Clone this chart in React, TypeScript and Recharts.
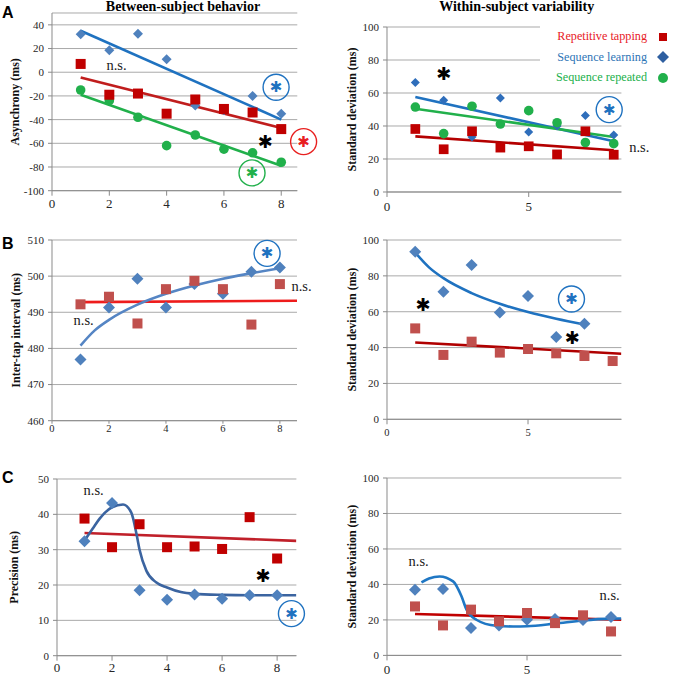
import React from "react";
import { CartesianGrid, ComposedChart, Legend, Line, ReferenceDot, Scatter, XAxis, YAxis } from "recharts";

const trials = [1, 2, 3, 4, 5, 6, 7, 8];
const fitEnds = [1, 8];

// A: asynchrony, between subjects
const asyncTapping = [7, -19, -18, -35, -23, -31, -34, -48];
const asyncLearning = [32, 18.5, 32.5, 11, -28, -32, -20, -35];
const asyncRepeated = [-15, -24, -38, -62, -53, -65, -68, -76];
const asyncTappingFit = [-4.5, -47];
const asyncLearningFit = [35, -40];
const asyncRepeatedFit = [-19, -79];

// A: asynchrony, within-subject SD
const asyncSdTapping = [38.2, 25.9, 36.8, 26.9, 27.7, 22.8, 36.8, 22.6];
const asyncSdLearning = [66.3, 55.6, 33.3, 57, 36.4, 40, 46.3, 34.5];
const asyncSdRepeated = [51.5, 35.4, 52, 41.2, 49.3, 42, 30, 29.3];
const asyncSdTappingFit = [33.7, 25.3];
const asyncSdLearningFit = [57.6, 30.7];
const asyncSdRepeatedFit = [50.5, 33.3];

// B: inter-tap interval
const itiTapping = [492.2, 494.3, 486.9, 496.4, 498.7, 496.4, 486.6, 497.8];
const itiLearning = [476.9, 491.3, 499.3, 491.3, 497.8, 495.1, 501.2, 502.4];
const itiTappingFitX = [1, 8.6];
const itiTappingFit = [492.8, 493.2];
const itiLearningFitX = [1, 1.5, 2, 3, 4, 5, 6, 7, 8];
const itiLearningFit = [480.8, 485.0, 487.9, 492.1, 495.1, 497.4, 499.3, 500.8, 502.2];

const itiSdTapping = [50.7, 35.9, 43.3, 37.2, 39.2, 36.8, 35.3, 32.5];
const itiSdLearning = [93.5, 71.2, 86.1, 59.5, 68.8, 45.9, 53.3];
const itiSdTappingFitX = [1, 8.31];
const itiSdTappingFit = [42.8, 36.6];
const itiSdLearningFitX = [1, 1.5, 2, 3, 4, 5, 6, 7];
const itiSdLearningFit = [93, 84.6, 78.7, 70.4, 64.4, 59.8, 56.1, 52.9];

// C: precision
const precTapping = [38.8, 30.7, 37.2, 30.7, 30.9, 30.2, 39.2, 27.5];
const precLearning = [32.4, 43.2, 18.5, 15.8, 17.3, 16.1, 17.1, 17.1];
const precTappingFitX = [1, 8.7];
const precTappingFit = [34.7, 32.5];
const precLearningFitX = [1, 1.3, 1.55, 2, 2.4, 2.7, 2.9, 3.0, 3.25, 3.6, 4, 4.5, 5, 6, 7, 8, 8.7];
const precLearningFit = [32.6, 36, 38.8, 42, 42.8, 40.5, 34, 30, 24, 20.8, 19.3, 18, 17.5, 17.2, 17.1, 17.1, 17.1];

const precSdTapping = [27.6, 16.9, 25.8, 19.2, 23.9, 18.2, 22.6, 13.5];
const precSdLearning = [37, 37.4, 15.4, 16.9, 20.1, 20.5, 20, 21.6];
const precSdTappingFitX = [1, 8.37];
const precSdTappingFit = [23.3, 20.1];
const precSdLearningFitX = [1.23, 1.5, 1.88, 2.36, 2.66, 2.84, 3.19, 3.9, 4.5, 5, 6, 7, 8, 8.37];
const precSdLearningFit = [41.1, 43.3, 44.5, 41.7, 33.3, 25.8, 20.1, 16.7, 16.3, 16.4, 17.9, 19.7, 20.7, 20.8];

const legendNames = ["Repetitive tapping", "Sequence learning", "Sequence repeated"];

const SERIF = '"Liberation Serif", "Times New Roman", serif';
const SANS = '"Liberation Sans", Arial, sans-serif';
const GRID = "#a9a9a9";
const AXIS = "#8a8a8a";
const RED_DARK = "#c00000";
const RED_SOFT = "#c0504d";
const RED_BRIGHT = "#e8201f";
const BLUE_SOFT = "#4f81bd";
const BLUE = "#1f72c0";
const GREEN = "#21b04b";

const pts = (ys: number[], xs: number[] = trials) => ys.map((y, i) => ({ x: xs[i], y }));

const square = (color: string, s: number) => (p: any) => (
  <rect x={p.cx - s / 2} y={p.cy - s / 2} width={s} height={s} fill={color} />
);
const diamond = (color: string, h: number) => (p: any) => (
  <path d={`M${p.cx},${p.cy - h}L${p.cx + h},${p.cy}L${p.cx},${p.cy + h}L${p.cx - h},${p.cy}Z`} fill={color} />
);
const dot = (color: string, r: number) => (p: any) => <circle cx={p.cx} cy={p.cy} r={r} fill={color} />;

// serif tick labels
const xTick = (fs: number) => (p: any) => (
  <text x={p.x} y={p.y} textAnchor="middle" fontFamily={SERIF} fontSize={fs} fill="#262626" dy="0.71em">
    {p.payload.value}
  </text>
);
const yTick = (p: any) => (
  <text x={p.x} y={p.y} textAnchor="end" fontFamily={SERIF} fontSize={11} fill="#262626" dy="0.355em">
    {p.payload.value}
  </text>
);

type Note = { x: number; y: number; kind: "ns" | "star" | "ring"; color?: string };

const noteShape = (n: Note) => (p: any) => {
  const { cx, cy } = p;
  if (n.kind === "ns")
    return (
      <text x={cx} y={cy} textAnchor="middle" dominantBaseline="central" fontFamily={SERIF} fontSize={14.5} fill="#1a1a1a">
        n.s.
      </text>
    );
  if (n.kind === "star")
    return (
      <text x={cx} y={cy} textAnchor="middle" dominantBaseline="central" fontFamily="DejaVu Sans" fontSize={18} fill="#000">
        ✱
      </text>
    );
  return (
    <g>
      <circle cx={cx} cy={cy} r={13} fill="none" stroke={n.color} strokeWidth={1.4} />
      <text x={cx} y={cy} textAnchor="middle" dominantBaseline="central" fontFamily="DejaVu Sans" fontSize={15} fill={n.color}>
        ✱
      </text>
    </g>
  );
};

const notesAsync: Note[] = [
  { x: 2.25, y: 6, kind: "ns" },
  { x: 7.82, y: -12.7, kind: "ring", color: BLUE },
  { x: 7.44, y: -58.6, kind: "star" },
  { x: 8.78, y: -58.6, kind: "ring", color: RED_BRIGHT },
  { x: 6.98, y: -85, kind: "ring", color: GREEN },
];
const notesAsyncSd: Note[] = [
  { x: 2.0, y: 71.7, kind: "star" },
  { x: 7.84, y: 49.9, kind: "ring", color: BLUE },
  { x: 8.9, y: 27.3, kind: "ns" },
];
const notesIti: Note[] = [
  { x: 7.55, y: 506.3, kind: "ring", color: BLUE },
  { x: 1.11, y: 488, kind: "ns" },
  { x: 8.76, y: 497.3, kind: "ns" },
];
const notesItiSd: Note[] = [
  { x: 1.28, y: 64.3, kind: "star" },
  { x: 6.54, y: 67.1, kind: "ring", color: BLUE },
  { x: 6.57, y: 45.5, kind: "star" },
];
const notesPrec: Note[] = [
  { x: 1.33, y: 47, kind: "ns" },
  { x: 7.49, y: 22.6, kind: "star" },
  { x: 8.52, y: 11.9, kind: "ring", color: BLUE },
];
const notesPrecSd: Note[] = [
  { x: 1.13, y: 53, kind: "ns" },
  { x: 7.95, y: 34.2, kind: "ns" },
];

function LegendBox() {
  const markers = [
    <rect key="s" x={3} y={3} width={8} height={8} fill={RED_DARK} />,
    <path key="d" d="M7,1L13,7L7,13L1,7Z" fill="#2e5fa0" />,
    <circle key="c" cx={7} cy={7} r={5} fill={GREEN} />,
  ];
  const textColors = [RED_BRIGHT, "#2e75b6", GREEN];
  return (
    <div style={{ background: "#fff", width: 134, height: 62, paddingTop: 1.5, boxSizing: "border-box", fontFamily: SERIF, fontSize: 12.2 }}>
      {legendNames.map((name, i) => (
        <div key={name} style={{ display: "flex", alignItems: "center", height: 20.5 }}>
          <span style={{ width: 107, textAlign: "right", whiteSpace: "nowrap", color: textColors[i] }}>{name}</span>
          <svg width={14} height={14} style={{ marginLeft: 9.3 }}>
            {markers[i]}
          </svg>
        </div>
      ))}
    </div>
  );
}

const AXW = 50;
const MT = 10;
const MR = 50;
const XAH = 26;

type PanelProps = {
  left: number;
  top: number;
  plotW: number;
  plotH: number;
  xMax: number;
  xTicks: number[];
  xFont: number;
  xTickSize: number;
  xTickMargin: number;
  yDomain: [number, number];
  yTicks: number[];
  yLabel: string;
  yLabelGap: number;
  series: { data: { x: number; y: number }[]; shape: (p: any) => React.ReactElement }[];
  fits: { data: { x: number; y: number }[]; color: string }[];
  notes: Note[];
  legend?: boolean;
};

function Panel(p: PanelProps) {
  const W = AXW + p.plotW + MR;
  const H = MT + p.plotH + XAH;
  return (
    <div style={{ position: "absolute", left: p.left - AXW, top: p.top - MT, fontFamily: SERIF }}>
      <ComposedChart width={W} height={H} margin={{ top: MT, right: MR, bottom: 0, left: 0 }}>
        <CartesianGrid vertical={false} stroke={GRID} />
        <XAxis
          type="number"
          dataKey="x"
          domain={[0, p.xMax]}
          ticks={p.xTicks}
          interval={0}
          allowDataOverflow
          height={XAH}
          tickSize={p.xTickSize}
          tickMargin={p.xTickMargin}
          axisLine={{ stroke: AXIS }}
          tickLine={{ stroke: AXIS }}
          tick={xTick(p.xFont)}
        />
        <YAxis
          type="number"
          dataKey="y"
          domain={p.yDomain}
          ticks={p.yTicks}
          interval={0}
          allowDataOverflow
          width={AXW}
          tickSize={4}
          tickMargin={4}
          axisLine={{ stroke: AXIS }}
          tickLine={{ stroke: AXIS }}
          tick={yTick}
          label={{
            value: p.yLabel,
            angle: -90,
            position: "insideLeft",
            offset: AXW - p.yLabelGap,
            style: { textAnchor: "middle", fontFamily: SERIF, fontWeight: 700, fontSize: 12, fill: "#111" },
          }}
        />
        {p.series.map((s, i) => (
          <Scatter key={i} data={s.data} shape={s.shape} isAnimationActive={false} />
        ))}
        {p.fits.map((f, i) => (
          <Line
            key={i}
            data={f.data}
            dataKey="y"
            type="monotone"
            stroke={f.color}
            strokeWidth={2.6}
            dot={false}
            activeDot={false}
            isAnimationActive={false}
          />
        ))}
        {p.notes.map((n, i) => (
          <ReferenceDot key={i} x={n.x} y={n.y} ifOverflow="visible" shape={noteShape(n)} />
        ))}
        {p.legend && (
          <Legend
            layout="vertical"
            align="center"
            verticalAlign="middle"
            wrapperStyle={{ left: 202.7, top: 8.3, width: 134, height: 62 }}
            content={() => <LegendBox />}
          />
        )}
      </ComposedChart>
    </div>
  );
}

const letterStyle: React.CSSProperties = {
  position: "absolute",
  left: 2,
  fontFamily: SANS,
  fontWeight: 700,
  fontSize: 16,
  lineHeight: "16px",
};
const titleStyle: React.CSSProperties = {
  position: "absolute",
  top: 0,
  width: 240,
  textAlign: "center",
  fontFamily: SERIF,
  fontWeight: 700,
  fontSize: 14,
  lineHeight: "14px",
  whiteSpace: "nowrap",
};

export default function App() {
  return (
    <div style={{ position: "absolute", left: 0, top: 0, width: 674, height: 679, background: "#fff", overflow: "hidden" }}>
      <div style={{ ...titleStyle, left: 183 - 120 }}>Between-subject behavior</div>
      <div style={{ ...titleStyle, left: 516.7 - 120 }}>Within-subject variability</div>
      <div style={{ ...letterStyle, top: 4.8 }}>A</div>
      <div style={{ ...letterStyle, top: 235.5 }}>B</div>
      <div style={{ ...letterStyle, top: 470 }}>C</div>

      <Panel
        left={51.7}
        top={13.3}
        plotW={245.3}
        plotH={177.7}
        xMax={8.56}
        xTicks={[0, 2, 4, 6, 8]}
        xFont={13}
        xTickSize={5}
        xTickMargin={3}
        yDomain={[-100, 50]}
        yTicks={[-100, -80, -60, -40, -20, 0, 20, 40]}
        yLabel="Asynchrony (ms)"
        yLabelGap={37.7}
        series={[
          { data: pts(asyncLearning), shape: diamond(BLUE_SOFT, 5) },
          { data: pts(asyncRepeated), shape: dot(GREEN, 4.8) },
          { data: pts(asyncTapping), shape: square(RED_DARK, 10) },
        ]}
        fits={[
          { data: pts(asyncLearningFit, fitEnds), color: BLUE },
          { data: pts(asyncTappingFit, fitEnds), color: "#c01d1d" },
          { data: pts(asyncRepeatedFit, fitEnds), color: GREEN },
        ]}
        notes={notesAsync}
      />

      <Panel
        left={387.3}
        top={26.7}
        plotW={234.4}
        plotH={165}
        xMax={8.27}
        xTicks={[0, 5]}
        xFont={13}
        xTickSize={5}
        xTickMargin={5}
        yDomain={[0, 100]}
        yTicks={[0, 20, 40, 60, 80, 100]}
        yLabel="Standard deviation (ms)"
        yLabelGap={35.6}
        series={[
          { data: pts(asyncSdLearning), shape: diamond("#2f6ebb", 4.5) },
          { data: pts(asyncSdRepeated), shape: dot(GREEN, 4.8) },
          { data: pts(asyncSdTapping), shape: square(RED_DARK, 9.7) },
        ]}
        fits={[
          { data: pts(asyncSdLearningFit, fitEnds), color: BLUE },
          { data: pts(asyncSdRepeatedFit, fitEnds), color: GREEN },
          { data: pts(asyncSdTappingFit, fitEnds), color: "#b40000" },
        ]}
        notes={notesAsyncSd}
        legend
      />

      <Panel
        left={51.7}
        top={240}
        plotW={245}
        plotH={180.7}
        xMax={8.6}
        xTicks={[0, 2, 4, 6, 8]}
        xFont={10.5}
        xTickSize={3}
        xTickMargin={1}
        yDomain={[460, 510]}
        yTicks={[460, 470, 480, 490, 500, 510]}
        yLabel="Inter-tap interval (ms)"
        yLabelGap={36.7}
        series={[
          { data: pts(itiLearning), shape: diamond(BLUE_SOFT, 6) },
          { data: pts(itiTapping), shape: square(RED_SOFT, 10) },
        ]}
        fits={[
          { data: pts(itiTappingFit, itiTappingFitX), color: "#ee1c1c" },
          { data: pts(itiLearningFit, itiLearningFitX), color: "#5585c4" },
        ]}
        notes={notesIti}
      />

      <Panel
        left={387.3}
        top={240}
        plotW={234.4}
        plotH={179.3}
        xMax={8.31}
        xTicks={[0, 5]}
        xFont={10.5}
        xTickSize={5}
        xTickMargin={4}
        yDomain={[0, 100]}
        yTicks={[0, 20, 40, 60, 80, 100]}
        yLabel="Standard deviation (ms)"
        yLabelGap={35.6}
        series={[
          { data: pts(itiSdLearning), shape: diamond(BLUE_SOFT, 6) },
          { data: pts(itiSdTapping), shape: square(RED_SOFT, 10) },
        ]}
        fits={[
          { data: pts(itiSdTappingFit, itiSdTappingFitX), color: "#b00000" },
          { data: pts(itiSdLearningFit, itiSdLearningFitX), color: BLUE },
        ]}
        notes={notesItiSd}
      />

      <Panel
        left={57.3}
        top={479.3}
        plotW={239.4}
        plotH={176.7}
        xMax={8.7}
        xTicks={[0, 2, 4, 6, 8]}
        xFont={13}
        xTickSize={5}
        xTickMargin={2}
        yDomain={[0, 50]}
        yTicks={[0, 10, 20, 30, 40, 50]}
        yLabel="Precision  (ms)"
        yLabelGap={43.3}
        series={[
          { data: pts(precLearning), shape: diamond(BLUE_SOFT, 6) },
          { data: pts(precTapping), shape: square(RED_DARK, 10) },
        ]}
        fits={[
          { data: pts(precTappingFit, precTappingFitX), color: "#c0202a" },
          { data: pts(precLearningFit, precLearningFitX), color: "#3b64a0" },
        ]}
        notes={notesPrec}
      />

      <Panel
        left={387.3}
        top={478.3}
        plotW={234.4}
        plotH={177.4}
        xMax={8.37}
        xTicks={[0, 5]}
        xFont={13}
        xTickSize={5}
        xTickMargin={4}
        yDomain={[0, 100]}
        yTicks={[0, 20, 40, 60, 80, 100]}
        yLabel="Standard deviation (ms)"
        yLabelGap={35.6}
        series={[
          { data: pts(precSdLearning), shape: diamond(BLUE_SOFT, 6) },
          { data: pts(precSdTapping), shape: square(RED_SOFT, 10) },
        ]}
        fits={[
          { data: pts(precSdTappingFit, precSdTappingFitX), color: RED_DARK },
          { data: pts(precSdLearningFit, precSdLearningFitX), color: "#1f77c4" },
        ]}
        notes={notesPrecSd}
      />
    </div>
  );
}
